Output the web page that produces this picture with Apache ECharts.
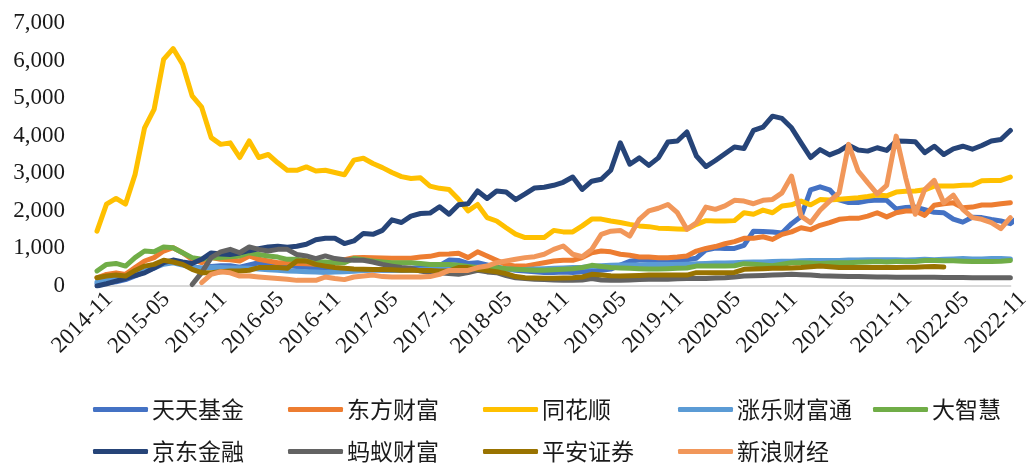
<!DOCTYPE html>
<html>
<head>
<meta charset="utf-8">
<script src="https://cdn.jsdelivr.net/npm/echarts@6/dist/echarts.min.js"></script>
<style>
html, body { margin: 0; padding: 0; background: #fff; }
#appUsers { width: 1033px; height: 463px; }
</style>
</head>
<body>
<div id="appUsers"></div>
<script>
// 月份
const months = [
    '2014-11','2014-12',
    '2015-01','2015-02','2015-03','2015-04','2015-05','2015-06','2015-07','2015-08','2015-09','2015-10','2015-11','2015-12',
    '2016-01','2016-02','2016-03','2016-04','2016-05','2016-06','2016-07','2016-08','2016-09','2016-10','2016-11','2016-12',
    '2017-01','2017-02','2017-03','2017-04','2017-05','2017-06','2017-07','2017-08','2017-09','2017-10','2017-11','2017-12',
    '2018-01','2018-02','2018-03','2018-04','2018-05','2018-06','2018-07','2018-08','2018-09','2018-10','2018-11','2018-12',
    '2019-01','2019-02','2019-03','2019-04','2019-05','2019-06','2019-07','2019-08','2019-09','2019-10','2019-11','2019-12',
    '2020-01','2020-02','2020-03','2020-04','2020-05','2020-06','2020-07','2020-08','2020-09','2020-10','2020-11','2020-12',
    '2021-01','2021-02','2021-03','2021-04','2021-05','2021-06','2021-07','2021-08','2021-09','2021-10','2021-11','2021-12',
    '2022-01','2022-02','2022-03','2022-04','2022-05','2022-06','2022-07','2022-08','2022-09','2022-10','2022-11'
];

const tiantian = [
    60,80,
    110,170,270,380,480,620,650,600,520,470,520,540,
    540,500,560,620,600,560,540,520,500,480,460,440,
    450,440,430,430,420,420,440,470,490,520,540,690,
    680,600,620,560,500,460,420,400,380,360,360,370,
    360,380,400,420,450,560,660,690,690,700,680,680,
    700,740,960,1010,1000,1000,1080,1460,1450,1440,1410,1660,
    1850,2560,2640,2560,2290,2220,2220,2270,2290,2280,2050,2090,
    2100,2030,1960,1950,1780,1700,1830,1820,1770,1730,1660,1860
];
const dongfang = [
    220,310,
    350,310,490,665,755,930,1020,885,710,620,755,710,
    700,665,800,710,665,620,620,600,590,580,575,650,
    700,755,760,750,745,740,740,740,770,790,845,850,
    870,755,910,800,685,575,530,530,575,620,665,685,
    685,755,885,930,910,845,820,770,770,755,755,770,
    800,930,1000,1050,1125,1180,1270,1270,1310,1240,1375,1440,
    1550,1500,1615,1685,1775,1800,1800,1860,1950,1840,1950,1995,
    1995,1880,2150,2190,2215,2080,2100,2155,2155,2190,2215
];
const tonghuashun = [
    1460,2180,
    2330,2180,2970,4210,4700,6030,6320,5900,5060,4760,3950,3770,
    3810,3420,3860,3420,3500,3280,3080,3080,3170,3060,3080,3020,
    2960,3350,3400,3260,3150,3020,2910,2860,2880,2660,2600,2570,
    2310,2000,2170,1820,1730,1550,1380,1290,1290,1290,1480,1440,
    1440,1600,1780,1780,1730,1690,1640,1600,1580,1540,1530,1520,
    1510,1640,1740,1730,1730,1740,1950,1910,2020,1950,2130,2160,
    2260,2160,2300,2290,2310,2330,2350,2380,2420,2400,2500,2520,
    2530,2560,2660,2660,2660,2680,2690,2800,2810,2810,2900
];
const zhangle = [
    100,150,
    200,220,300,400,480,580,620,560,500,480,500,490,
    480,480,470,450,430,420,400,390,380,370,360,370,
    380,390,410,420,430,420,410,420,430,440,450,460,
    470,480,500,480,460,450,440,440,450,460,470,480,
    490,500,520,540,550,560,560,560,570,570,570,570,
    580,590,600,610,610,620,630,640,640,650,660,660,
    670,680,680,680,680,690,690,700,700,700,700,690,
    700,710,700,710,720,730,720,720,730,730,720
];
const dazhihui = [
    400,575,
    600,530,755,930,910,1040,1020,885,755,710,755,755,
    780,800,885,840,800,770,710,710,665,640,640,620,
    620,730,700,665,640,620,620,620,600,575,575,575,
    550,520,490,490,490,460,445,430,420,420,430,445,
    460,490,550,520,490,480,470,460,450,450,460,470,
    480,530,530,530,530,540,595,580,560,540,580,620,
    620,610,600,610,620,620,630,640,650,640,650,650,
    650,680,680,670,670,660,650,650,650,660,680
];
const jingdong = [
    0,60,
    130,200,280,350,480,620,690,640,600,710,880,850,
    840,880,940,990,1040,1060,1030,1060,1110,1230,1270,1270,
    1130,1200,1400,1375,1480,1760,1690,1860,1930,1940,2110,1910,
    2160,2190,2530,2330,2530,2500,2300,2450,2610,2630,2680,2760,
    2900,2570,2790,2840,3080,3810,3240,3410,3210,3410,3830,3860,
    4100,3460,3180,3340,3520,3700,3660,4140,4230,4520,4460,4210,
    3810,3420,3630,3490,3590,3750,3620,3590,3680,3610,3860,3850,
    3840,3550,3720,3500,3650,3720,3640,3740,3860,3900,4140
];
const mayi = [
    null,null,
    null,null,null,null,null,null,null,null,40,355,755,910,
    975,885,1040,975,930,975,975,840,800,730,800,730,
    700,685,685,640,575,530,490,470,400,355,355,330,
    310,355,420,375,355,280,220,200,180,170,160,150,
    150,160,200,160,150,150,160,170,180,180,180,190,
    200,200,200,210,220,240,265,270,280,290,300,310,
    300,290,270,265,260,255,250,245,240,240,235,235,
    230,230,230,228,225,225,222,220,220,220,220
];
const pingan = [
    220,265,
    290,265,415,530,575,685,640,575,445,355,355,380,
    400,400,420,490,490,490,470,665,665,575,530,490,
    470,450,445,440,440,430,420,420,410,410,400,400,
    490,490,445,410,380,330,250,220,210,205,205,210,
    220,240,310,290,270,265,270,280,290,290,290,290,
    290,355,355,355,355,360,445,450,460,470,470,480,
    490,510,530,510,490,490,490,490,490,490,495,500,
    500,510,520,505,null,null,null,null,null,null,null
];
const xinlang = [
    null,null,
    null,null,null,null,null,null,null,null,null,90,310,380,
    350,265,265,240,220,200,180,150,150,150,240,200,
    170,240,265,290,250,240,240,240,240,250,310,415,
    415,415,490,530,620,665,710,755,780,845,975,1065,
    845,780,975,1375,1460,1480,1330,1775,2000,2070,2170,1950,
    1510,1685,2100,2040,2130,2280,2260,2190,2280,2305,2480,2925,
    1860,1685,2015,2260,2480,3770,3060,2750,2455,2680,3990,2880,
    1910,2570,2810,2215,2420,2040,1820,1775,1685,1525,1820
];

const names = ['天天基金','东方财富','同花顺','涨乐财富通','大智慧','京东金融','蚂蚁财富','平安证券','新浪财经'];
const colors = ['#4472C4','#ED7D31','#FFC000','#5B9BD5','#70AD47','#264478','#636363','#997300','#F1975A'];
const values = [tiantian, dongfang, tonghuashun, zhangle, dazhihui, jingdong, mayi, pingan, xinlang];

let myChart = echarts.init(document.getElementById('appUsers'));

// 图例按网格排列：每行5列，列宽195
const legends = names.map(function (name, i) {
    let row = i < 5 ? 0 : 1;
    let col = i < 5 ? i : i - 5;
    return {
        data: [name],
        icon: 'roundRect',
        itemWidth: 55,
        itemHeight: 5,
        padding: 0,
        left: 93 + col * 195,
        top: row === 0 ? 398 : 440,
        textStyle: {
            fontFamily: 'Noto Sans CJK SC',
            fontSize: 23,
            color: '#1a1a1a',
            padding: [0, 0, 0, -1]
        }
    };
});

const option = {
    animation: false,
    color: colors,
    grid: {
        left: 97,
        right: 5,
        top: 23,
        bottom: 177
    },
    legend: legends,
    xAxis: {
        type: 'category',
        data: months,
        boundaryGap: false,
        axisTick: {
            show: false
        },
        axisLine: {
            lineStyle: {
                color: '#d9d9d9',
                width: 2
            }
        },
        axisLabel: {
            interval: 5,
            rotate: 45,
            margin: 6,
            padding: [0, -6, 0, 0],
            verticalAlign: 'top',
            fontFamily: 'Liberation Serif',
            fontSize: 23,
            color: '#1a1a1a'
        }
    },
    yAxis: {
        type: 'value',
        min: 0,
        max: 7000,
        interval: 1000,
        axisLine: {
            show: false
        },
        axisTick: {
            show: false
        },
        splitLine: {
            show: false
        },
        axisLabel: {
            margin: 32,
            fontFamily: 'Liberation Serif',
            fontSize: 23,
            color: '#1a1a1a',
            formatter: function (v) {
                return v.toLocaleString('en-US');
            }
        }
    },
    series: names.map(function (name, i) {
        return {
            name: name,
            type: 'line',
            data: values[i],
            symbol: 'none',
            connectNulls: false,
            lineStyle: {
                width: 5,
                cap: 'round',
                join: 'round'
            }
        };
    })
};
myChart.setOption(option);
</script>
</body>
</html>
